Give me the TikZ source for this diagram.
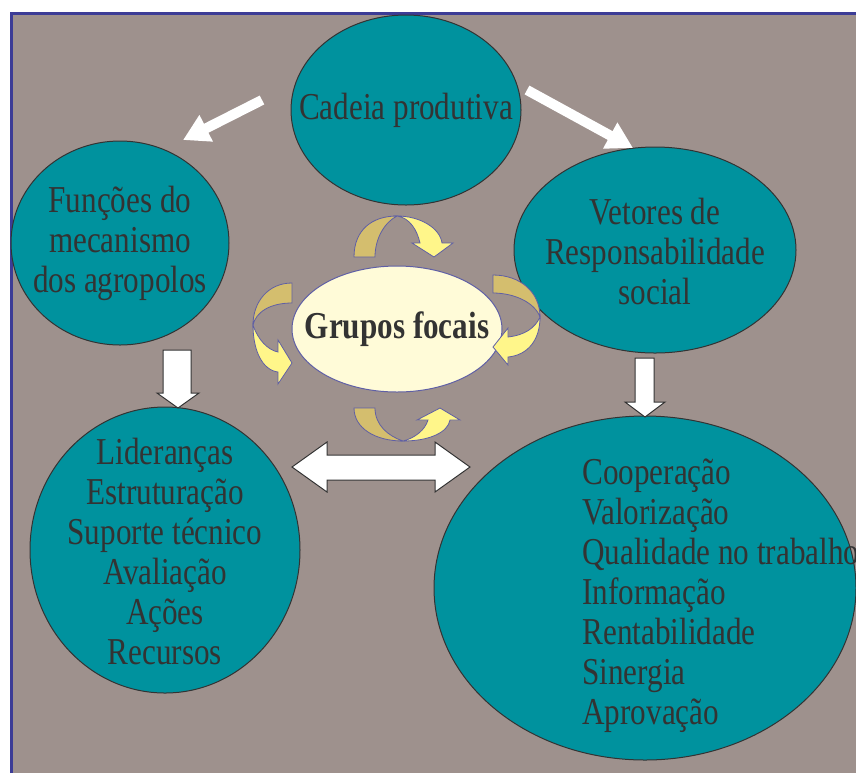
\documentclass[tikz,border=0pt]{standalone}
\usepackage{fontspec}
\setmainfont{Liberation Serif}[FakeStretch=0.82]
\usetikzlibrary{shapes.geometric, arrows.meta}

\definecolor{bgpanel}{RGB}{158,145,141}
\definecolor{framecol}{RGB}{60,60,150}
\definecolor{tealfill}{RGB}{0,146,158}
\definecolor{inkgray}{RGB}{51,51,51}
\definecolor{cream}{RGB}{255,251,216}
\definecolor{goldband}{RGB}{212,190,110}
\definecolor{lemonband}{RGB}{255,246,138}
\definecolor{rimblue}{RGB}{95,95,165}

\tikzset{
  bubble/.style={ellipse, draw=inkgray, line width=0.5pt, fill=tealfill, inner sep=0pt},
  focus/.style={ellipse, draw=rimblue, line width=0.5pt, fill=cream, inner sep=0pt},
  label/.style={text=inkgray, font=\fontsize{19}{20}\selectfont, align=center, inner sep=0pt},
  flow/.style={white, line width=5pt, -{Triangle[width=14pt,length=13pt]}},
  blockarrow/.style={fill=white, draw=inkgray, line width=0.5pt, line join=miter},
  backband/.style={fill=goldband, draw=rimblue, line width=0.4pt},
  frontband/.style={fill=lemonband, draw=rimblue, line width=0.4pt},
}

\begin{document}
\begin{tikzpicture}[x=0.5pt, y=-0.5pt]
  % page and panel
  \useasboundingbox (0,0) rectangle (856,773);
  \fill[white] (0,0) rectangle (856,773);
  \fill[bgpanel] (11,13) rectangle (856,773);
  \draw[framecol, line width=1.5pt] (11,773) -- (11,13) -- (856,13);

  % bubbles (sizes in pt; one drawing unit is half a point)
  \node[bubble, minimum width=115pt, minimum height=95pt] (cadeia) at (406,110) {};
  \node[bubble, minimum width=109pt, minimum height=102pt] (funcoes) at (120,243) {};
  \node[bubble, minimum width=141pt, minimum height=103pt] (vetores) at (655,250) {};
  \node[bubble, minimum width=135pt, minimum height=143pt] (lider) at (165,550) {};
  \node[bubble, minimum width=211pt, minimum height=172pt] (coop) at (645,588) {};
  \node[focus, minimum width=105pt, minimum height=63pt] (grupos) at (397,329) {};

  % texts
  \node[label] at (cadeia) {Cadeia produtiva};
  \node[label] at (funcoes) {Funções do\\mecanismo\\dos agropolos};
  \node[label] at (655,251) {Vetores de\\Responsabilidade\\social};
  \node[label] at (165,551) {Lideranças\\Estruturação\\Suporte técnico\\Avaliação\\Ações\\Recursos};
  \node[label, align=left, anchor=west] at (582,596) {Cooperação\\Valorização\\Qualidade no trabalho\\Informação\\Rentabilidade\\Sinergia\\Aprovação};
  \node[label, font=\fontsize{19}{20}\selectfont\bfseries] at (grupos) {Grupos focais};

  % white flow arrows from the top bubble
  \coordinate (tl0) at (262,100);
  \coordinate (tl1) at (183,140);
  \coordinate (tr0) at (527,90);
  \coordinate (tr1) at (633,148);
  \draw[flow] (tl0) -- (tl1);
  \draw[flow] (tr0) -- (tr1);

  % block arrows
  \draw[blockarrow] (163,350) -- (191,350) -- (191,393) -- (199,393) -- (178,408)
        -- (157,393) -- (163,393) -- cycle;
  \draw[blockarrow] (635,358) -- (654,358) -- (654,402) -- (665,402) -- (645,417)
        -- (625,402) -- (635,402) -- cycle;
  \draw[blockarrow] (292,467) -- (327,442) -- (327,455) -- (435,455) -- (435,442)
        -- (470,467) -- (435,492) -- (435,480) -- (327,480) -- (327,492) -- cycle;

  % circular arrows around the focus groups
  % top
  \draw[backband] (354,257) .. controls (354,230) and (372,216) .. (397,216)
        .. controls (385,222) and (375,238) .. (375,257) -- cycle;
  \draw[frontband] (397,216) .. controls (420,216) and (440,228) .. (442,243)
        -- (453,243) -- (434,257) -- (412,243) -- (420,243)
        .. controls (417,230) and (410,218) .. (397,216) -- cycle;
  % left
  \draw[backband] (292,283) .. controls (268,283) and (253,302) .. (253,325)
        .. controls (256,312) and (270,303) .. (292,303) -- cycle;
  \draw[frontband] (253,325) .. controls (258,340) and (268,350) .. (278,352)
        -- (278,340) -- (292,363) -- (278,384) -- (278,372)
        .. controls (262,370) and (253,350) .. (253,325) -- cycle;
  % right
  \draw[backband] (493,275) .. controls (520,275) and (540,292) .. (540,317)
        .. controls (535,303) and (515,293) .. (493,293) -- cycle;
  \draw[frontband] (540,317) .. controls (535,328) and (525,335) .. (508,337)
        -- (508,328) -- (493,347) -- (508,365) -- (508,357)
        .. controls (528,355) and (540,340) .. (540,317) -- cycle;
  % bottom
  \draw[backband] (354,408) .. controls (354,428) and (375,441) .. (403,441)
        .. controls (388,436) and (375,425) .. (375,408) -- cycle;
  \draw[frontband] (403,441) .. controls (430,441) and (448,432) .. (450,420)
        -- (460,420) -- (440,408) -- (417,420) -- (428,420)
        .. controls (425,430) and (415,438) .. (403,441) -- cycle;
\end{tikzpicture}
\end{document}
